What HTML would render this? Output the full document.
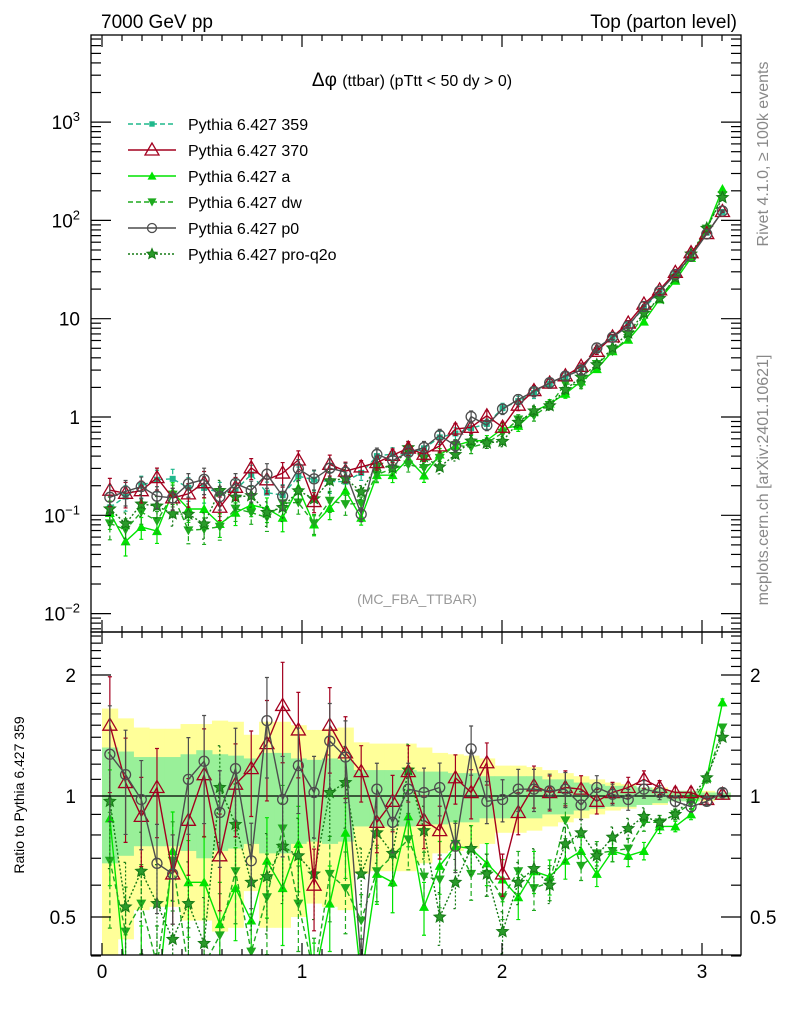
<!DOCTYPE html>
<html><head><meta charset="utf-8">
<style>
html,body{margin:0;padding:0;background:#fff;}
svg{display:block;font-family:"Liberation Sans",sans-serif;}
</style></head>
<body>
<svg id="chart" width="786" height="1024" viewBox="0 0 786 1024" xmlns="http://www.w3.org/2000/svg">
<defs>
<clipPath id="clipMain"><rect x="91" y="35" width="650" height="597"/></clipPath>
<clipPath id="clipRatio"><rect x="91" y="632" width="650" height="323"/></clipPath>
</defs>
<text x="101" y="28" font-size="19">7000 GeV pp</text>
<text x="737" y="28" font-size="19" text-anchor="end">Top (parton level)</text>
<text x="412" y="86" font-size="19" text-anchor="middle">Δφ <tspan font-size="16">(ttbar) (pTtt &lt; 50 dy &gt; 0)</tspan></text>
<text x="417" y="604" font-size="14" fill="#999" text-anchor="middle">(MC_FBA_TTBAR)</text>
<text transform="translate(768,154) rotate(-90)" font-size="16" fill="#888" text-anchor="middle">Rivet 4.1.0, ≥ 100k events</text>
<text transform="translate(768,480) rotate(-90)" font-size="16" fill="#888" text-anchor="middle">mcplots.cern.ch [arXiv:2401.10621]</text>
<text transform="translate(24,795) rotate(-90)" font-size="14" text-anchor="middle">Ratio to Pythia 6.427 359</text>
<g id="ratioBands" clip-path="url(#clipRatio)"></g>
<line x1="91" x2="741" y1="796" y2="796" stroke="#000" stroke-width="1.2"/>
<g id="mainSeries" clip-path="url(#clipMain)"></g>
<g id="ratioSeries" clip-path="url(#clipRatio)"></g>
<g id="axes"></g>
<g id="legend"></g>
</svg>
<script>
const NS="http://www.w3.org/2000/svg";
const nBins = 40;
const xTickLabels = ["0","1","2","3"];
const mainTickExp = [-2,-1,0,1,2,3];
const mainTickLabels = ["10^-2","10^-1","1","10","10^2","10^3"];
const ratioTickVals = [0.5,1,2];
const ratioTickLabels = ["0.5","1","2"];
const seriesNames = ["Pythia 6.427 359","Pythia 6.427 370","Pythia 6.427 a","Pythia 6.427 dw","Pythia 6.427 p0","Pythia 6.427 pro-q2o"];
const ref359 = [0.12,0.155,0.2,0.23,0.235,0.19,0.19,0.17,0.18,0.26,0.17,0.16,0.25,0.23,0.22,0.22,0.27,0.4,0.42,0.42,0.48,0.62,0.68,0.77,0.85,1.23,1.45,1.75,2.17,2.5,3.15,4.8,6.4,8.6,12.8,18.7,29,46,75,122];
const ratio370 = [1.50,1.08,0.89,1.05,0.64,0.87,1.13,0.71,1.07,1.17,1.35,1.68,1.46,0.60,1.50,1.28,1.15,0.86,0.97,1.15,0.87,0.82,1.11,1.02,1.21,0.64,0.91,1.06,1.02,1.05,1.04,0.97,1.02,1.05,1.10,1.05,1.02,1.02,0.98,1.01];
const ratioA = [0.88,0.35,0.38,0.30,0.73,0.61,0.61,0.48,0.59,0.49,0.69,0.59,0.76,0.35,0.54,0.81,0.35,0.64,0.61,0.89,0.53,0.67,0.75,0.74,0.68,0.62,0.56,0.65,0.63,0.69,0.73,0.64,0.73,0.71,0.73,0.84,0.84,0.90,1.11,1.71];
const ratioDw = [0.69,0.46,0.54,0.38,0.69,0.37,0.38,0.45,0.65,0.41,0.56,0.83,0.54,0.36,0.64,0.59,0.49,0.65,0.71,0.78,0.63,0.62,0.76,0.64,0.64,0.56,0.65,0.59,0.61,0.87,0.67,0.72,0.73,0.74,0.86,0.86,0.90,0.96,1.10,1.48];
const ratioP0 = [1.27,1.13,0.98,0.68,0.64,1.10,1.22,0.91,1.17,0.69,1.54,0.98,1.19,1.02,1.37,1.25,0.38,1.04,0.86,1.04,1.02,1.05,0.75,1.31,0.97,0.98,1.04,1.04,1.03,1.04,0.95,1.05,1.01,0.98,1.04,1.02,0.97,0.94,0.97,1.02];
const ratioQ2o = [0.97,0.53,0.65,0.54,0.44,0.54,0.43,1.05,0.85,0.61,0.63,0.75,0.71,0.64,1.02,1.08,0.64,0.81,0.72,1.16,0.82,0.50,0.61,0.74,0.64,0.46,0.61,0.66,0.60,0.76,0.81,0.71,0.79,0.83,0.89,0.86,0.90,0.99,1.11,1.40];
const statErr = [0.32,0.29,0.25,0.25,0.25,0.27,0.30,0.27,0.26,0.24,0.28,0.28,0.24,0.23,0.24,0.23,0.16,0.16,0.16,0.16,0.15,0.15,0.14,0.14,0.12,0.12,0.12,0.12,0.10,0.10,0.08,0.07,0.06,0.06,0.05,0.04,0.03,0.03,0.02,0.02];
const totErr = [0.65,0.56,0.48,0.47,0.47,0.51,0.51,0.54,0.53,0.42,0.53,0.53,0.50,0.46,0.47,0.48,0.36,0.35,0.35,0.35,0.32,0.28,0.27,0.26,0.24,0.19,0.19,0.18,0.16,0.14,0.12,0.10,0.08,0.07,0.05,0.05,0.03,0.03,0.03,0.02];

const X0=102, XS=200;
function xPos(v){return X0+XS*v;}
function yMain(v){return 417-98.3*Math.log10(v);}
function yRatio(r){return 796-402*Math.log10(Math.max(r,0.05));}
const binW=Math.PI/nBins;
function binCenter(i){return (i+0.5)*binW;}

function mk(tag,attrs,parent){const e=document.createElementNS(NS,tag);for(const k in attrs)e.setAttribute(k,attrs[k]);parent.appendChild(e);return e;}

const bands=document.getElementById('ratioBands');
for(let i=0;i<nBins;i++){
  const xa=xPos(i*binW), xb=xPos((i+1)*binW);
  const y=mk('rect',{x:xa,y:yRatio(1+totErr[i]),width:xb-xa+0.5,height:yRatio(1-totErr[i])-yRatio(1+totErr[i]),fill:'#ffff99'},bands);
  
  
}
for(let i=0;i<nBins;i++){
  const xa=xPos(i*binW), xb=xPos((i+1)*binW);
  const g=mk('rect',{x:xa,y:yRatio(1+statErr[i]),width:xb-xa+0.5,height:yRatio(1-statErr[i])-yRatio(1+statErr[i]),fill:'#99f099'},bands);
  
  
}

const styles=[
 {key:'s359',ratio:null,color:'#1fb88c',dash:'5,3',marker:'square'},
 {key:'s370',ratio:ratio370,color:'#a3001f',dash:'',marker:'tri-open'},
 {key:'sa',ratio:ratioA,color:'#00e400',dash:'',marker:'tri'},
 {key:'sdw',ratio:ratioDw,color:'#1eaa1e',dash:'5,3',marker:'tri-down'},
 {key:'sp0',ratio:ratioP0,color:'#4d4d4d',dash:'',marker:'circle'},
 {key:'sq2o',ratio:ratioQ2o,color:'#157a15',dash:'2,2',marker:'star'}
];
function starPts(cx,cy,R){let p=[];for(let k=0;k<10;k++){const r=k%2?R*0.45:R;const a=-Math.PI/2+k*Math.PI/5;p.push((cx+r*Math.cos(a)).toFixed(1)+','+(cy+r*Math.sin(a)).toFixed(1));}return p.join(' ');}
function marker(type,cx,cy,color,parent,scale){
  const s=scale||1;
  if(type==='square') return mk('rect',{x:cx-3*s,y:cy-3*s,width:6*s,height:6*s,fill:color},parent);
  if(type==='tri-open') return mk('polygon',{points:`${cx},${cy-7*s} ${cx-7*s},${cy+5*s} ${cx+7*s},${cy+5*s}`,fill:'none',stroke:color,'stroke-width':1.3},parent);
  if(type==='tri') return mk('polygon',{points:`${cx},${cy-5*s} ${cx-5*s},${cy+4*s} ${cx+5*s},${cy+4*s}`,fill:color},parent);
  if(type==='tri-down') return mk('polygon',{points:`${cx},${cy+5*s} ${cx-5*s},${cy-4*s} ${cx+5*s},${cy-4*s}`,fill:color},parent);
  if(type==='circle') return mk('circle',{cx:cx,cy:cy,r:5*s,fill:'none',stroke:color,'stroke-width':1.3},parent);
  return mk('polygon',{points:starPts(cx,cy,6*s),fill:'#2a9a2a',stroke:color,'stroke-width':1},parent);
}
function drawSeries(parent,vals,yfn,st,errs,panel){
  const g=mk('g',{},parent);
  
  
  for(let i=0;i<nBins;i++){
    const cx=xPos(binCenter(i)), v=vals[i], e=errs[i]*v;
    const eb=mk('path',{d:`M${cx},${yfn(v+e)}V${yfn(Math.max(v-e,v*0.3))}M${cx-2},${yfn(v+e)}h4M${cx-2},${yfn(Math.max(v-e,v*0.3))}h4`,stroke:st.color,'stroke-width':1.2,fill:'none','stroke-dasharray':st.dash},g);
    
    
  }
  const pts=vals.map((v,i)=>xPos(binCenter(i)).toFixed(1)+','+yfn(v).toFixed(1)).join(' ');
  const pl=mk('polyline',{points:pts,fill:'none',stroke:st.color,'stroke-width':1.4,'stroke-dasharray':st.dash},g);
  
  
  for(let i=0;i<nBins;i++){
    const m=marker(st.marker,xPos(binCenter(i)),yfn(vals[i]),st.color,g);
    
    
  }
}
const mainG=document.getElementById('mainSeries'), ratioG=document.getElementById('ratioSeries');
const order=[0,2,3,5,1,4];
order.forEach(k=>{
  const st=styles[k];
  const r=st.ratio||ref359.map(()=>1);
  const vals=ref359.map((v,i)=>v*r[i]);
  drawSeries(mainG,vals,yMain,st,statErr,'main');
  if(st.ratio) drawSeries(ratioG,r,yRatio,st,statErr,'ratio');
});

const ax=document.getElementById('axes');
function line(x1,y1,x2,y2,name){const l=mk('line',{x1:x1,y1:y1,x2:x2,y2:y2,stroke:'#000','stroke-width':1.2},ax);return l;}
const fm=mk('rect',{x:91,y:35,width:650,height:597,fill:'none',stroke:'#000','stroke-width':1.3},ax);


const fr=mk('rect',{x:91,y:632,width:650,height:323,fill:'none',stroke:'#000','stroke-width':1.3},ax);


for(let t=0;t<=31;t++){
  const v=t/10, x=xPos(v), major=(t%10===0), L=major?12:6;
  [[35,1],[632,-1],[632,1],[955,-1]].forEach(([y,d])=>line(x,y,x,y+d*L,'x-tick'));
}
xTickLabels.forEach((lab,i)=>{const t=mk('text',{x:xPos(i),y:978,'font-size':19,'text-anchor':'middle'},ax);t.textContent=lab;});
for(let e=-3;e<=3;e++){
  for(let m=1;m<=9;m++){
    const v=m*Math.pow(10,e), y=yMain(v);
    if(y<35||y>632) continue;
    const L=m===1?20:10;
    line(91,y,91+L,y,'y-tick');line(741,y,741-L,y,'y-tick');
  }
}
mainTickExp.forEach((e,i)=>{
  const y=yMain(Math.pow(10,e));
  const lab=mainTickLabels[i];
  const t=mk('text',{x:80,y:y+7,'font-size':19,'text-anchor':'end'},ax);
  
  
  if(lab.indexOf('^')>=0){const [b,p]=lab.split('^');t.textContent=b;const ts=mk('tspan',{'font-size':13,dy:-8},t);ts.textContent=p.replace('-','−');}
  else t.textContent=lab;
});
[0.4,0.5,0.6,0.7,0.8,0.9,1,1.1,1.2,1.3,1.4,1.5,1.6,1.7,1.8,1.9,2,2.1,2.2,2.3,2.4,2.5].forEach(v=>{
  const y=yRatio(v);const major=(v===0.5||v===1||v===2);const L=major?20:10;
  line(91,y,91+L,y,'ratio-y-tick');line(741,y,741-L,y,'ratio-y-tick');
});
ratioTickVals.forEach((v,i)=>{
  const y=yRatio(v);
  const t1=mk('text',{x:76,y:y+7,'font-size':19,'text-anchor':'end'},ax);t1.textContent=ratioTickLabels[i];
  
  const t2=mk('text',{x:750,y:y+7,'font-size':19},ax);t2.textContent=ratioTickLabels[i];
  
});
const lg=document.getElementById('legend');
const legY=[124,150,176,202,228,254];
styles.forEach((st,i)=>{
  const g=mk('g',{},lg);
  
  
  mk('line',{x1:128,x2:176,y1:legY[i],y2:legY[i],stroke:st.color,'stroke-width':1.4,'stroke-dasharray':st.dash},g);
  marker(st.marker,152,legY[i],st.color,g,st.marker==='tri-open'?1:0.9);
  const t=mk('text',{x:188,y:legY[i]+6,'font-size':16},g);t.textContent=seriesNames[i];
});
</script>
</body></html>
